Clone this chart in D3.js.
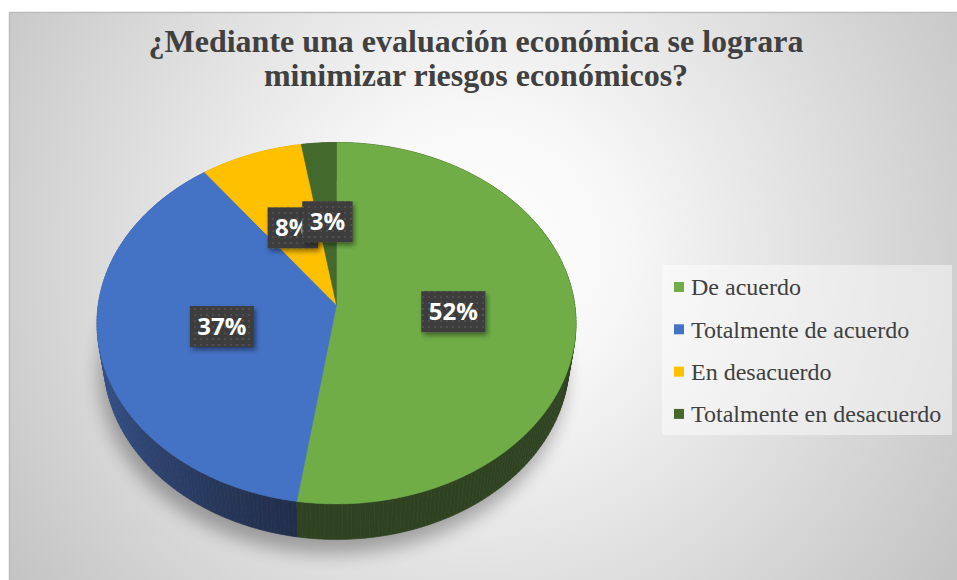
<!DOCTYPE html>
<html><head><meta charset="utf-8">
<script src="https://cdn.jsdelivr.net/npm/d3@7"></script>
<style>html,body{margin:0;padding:0;background:#fff;}svg{display:block;}</style>
</head><body>
<svg id="chart" width="957" height="580"></svg>
<script>
// ---- data ----
const titleLines = ["¿Mediante una evaluación económica se lograra", "minimizar riesgos económicos?"];
const categories = ["De acuerdo", "Totalmente de acuerdo", "En desacuerdo", "Totalmente en desacuerdo"];
const values = [52.4, 37.4, 7.6, 2.6];
const colors = ["#70ad47", "#4472c4", "#ffc000", "#436a2c"];

// ---- setup ----
const W = 957, H = 580;
const svg = d3.select("#chart");
const defs = svg.append("defs");

const bg = defs.append("radialGradient").attr("id", "bg").attr("gradientUnits", "userSpaceOnUse")
  .attr("cx", 480).attr("cy", 250).attr("r", 580);
bg.append("stop").attr("offset", "0").attr("stop-color", "#ffffff");
bg.append("stop").attr("offset", "0.25").attr("stop-color", "#f7f7f7");
bg.append("stop").attr("offset", "1").attr("stop-color", "#c3c3c3");

const pat = defs.append("pattern").attr("id", "dots").attr("patternUnits", "userSpaceOnUse")
  .attr("width", 6).attr("height", 6);
pat.append("rect").attr("width", 6).attr("height", 6).attr("fill", "#3d3d3d");
pat.append("circle").attr("cx", 3).attr("cy", 3).attr("r", 0.9).attr("fill", "#585858");

const blur = defs.append("filter").attr("id", "shadowBlur").attr("x", "-20%").attr("y", "-20%").attr("width", "140%").attr("height", "140%");
blur.append("feGaussianBlur").attr("stdDeviation", 9);

const ds = defs.append("filter").attr("id", "drop").attr("x", "-30%").attr("y", "-30%").attr("width", "160%").attr("height", "170%");
ds.append("feGaussianBlur").attr("in", "SourceAlpha").attr("stdDeviation", 2.5);
ds.append("feOffset").attr("dx", 2).attr("dy", 3).attr("result", "ob");
ds.append("feComponentTransfer").append("feFuncA").attr("type", "linear").attr("slope", 0.45);
const m = ds.append("feMerge");
m.append("feMergeNode");
m.append("feMergeNode").attr("in", "SourceGraphic");

// background
svg.append("rect").attr("x", 9.5).attr("y", 12.5).attr("width", W).attr("height", H)
  .attr("fill", "url(#bg)").attr("stroke", "#bcbcbc").attr("stroke-width", 1.5);

// ---- 3D pie projection ----
const cx = 336.5, cy = 305;
const elev = Math.asin(0.7508), sE = Math.sin(elev), cE = Math.cos(elev);
const Ldist = 6.56, F = 1563, thick = 0.245;
function proj(r, a, h) {
  const x = r * Math.sin(a), d = r * Math.cos(a);
  const v = d * sE - h * cE, w = Ldist + d * cE + h * sE;
  return [cx + F * x / w, cy - F * v / w];
}
function depth(a) { return Math.cos(a); }

const pie = d3.pie().sort(null).value(d => d)(values);
const total = d3.sum(values);
const pct = d3.format(".0%");

// shadow
const shadowPts = d3.range(0, 361, 2).map(deg => {
  const a = deg * Math.PI / 180;
  const p = proj(1.0, a, thick);
  return [p[0] - 4, p[1] + 14];
});
svg.append("path").attr("d", d3.line()(shadowPts) + "Z").attr("fill", "#000").attr("opacity", 0.3)
  .attr("filter", "url(#shadowBlur)");

// walls: small quads sorted far->near
function shadeK(a) {
  const deg = a * 180 / Math.PI;
  if (deg <= 190) return 0.6;
  if (deg >= 280) return 0.14;
  return 0.6 - 0.46 * (deg - 190) / 90;
}
const quads = [];
pie.forEach((s, i) => {
  const n = Math.max(2, Math.ceil((s.endAngle - s.startAngle) / (Math.PI / 180)));
  for (let k = 0; k < n; k++) {
    const a0 = s.startAngle + (s.endAngle - s.startAngle) * k / n;
    const a1 = s.startAngle + (s.endAngle - s.startAngle) * (k + 1) / n;
    const am = (a0 + a1) / 2;
    const col = d3.interpolateLab(colors[i], "#000")(shadeK(am));
    quads.push({ pts: [proj(1, a0, 0), proj(1, a1, 0), proj(1, a1, thick), proj(1, a0, thick)], col, z: depth(am) });
  }
});
quads.sort((a, b) => b.z - a.z);
svg.append("g").selectAll("path").data(quads).join("path")
  .attr("d", q => d3.line()(q.pts) + "Z")
  .attr("fill", q => q.col).attr("stroke", q => q.col).attr("stroke-width", 0.6);

// top faces
function topPath(s) {
  const n = Math.max(2, Math.ceil((s.endAngle - s.startAngle) / (Math.PI / 360)));
  const pts = [proj(0, 0, 0)];
  for (let k = 0; k <= n; k++) pts.push(proj(1, s.startAngle + (s.endAngle - s.startAngle) * k / n, 0));
  return d3.line()(pts) + "Z";
}
svg.append("g").selectAll("path").data(pie).join("path")
  .attr("d", topPath).attr("fill", (d, i) => colors[i])
  .attr("stroke", (d, i) => colors[i]).attr("stroke-width", 0.5);

// labels
const lg = svg.append("g");
pie.forEach((s, i) => {
  const p = proj(0.49, (s.startAngle + s.endAngle) / 2, 0);
  const g = lg.append("g");
  const rect = g.append("rect").attr("fill", "url(#dots)").attr("filter", "url(#drop)");
  const t = g.append("text").attr("x", p[0]).attr("y", p[1]).attr("dy", "0.36em")
    .attr("text-anchor", "middle").attr("fill", "#fff")
    .attr("font-family", "'Open Sans', 'Noto Sans', sans-serif").attr("font-weight", "bold")
    .attr("font-size", 24).text(pct(s.value / total));
  const tw = t.node().getComputedTextLength();
  const bw = tw + 15, bh = 41;
  rect.attr("x", p[0] - bw / 2).attr("y", p[1] - bh / 2).attr("width", bw).attr("height", bh);
});

// legend
const leg = svg.append("g");
leg.append("rect").attr("x", 662).attr("y", 265).attr("width", 290).attr("height", 170)
  .attr("fill", "#ffffff").attr("opacity", 0.45);
categories.forEach((c, i) => {
  const y = 287 + i * 42.3;
  leg.append("rect").attr("x", 674).attr("y", y - 5).attr("width", 10).attr("height", 10).attr("fill", colors[i]);
  leg.append("text").attr("x", 691).attr("y", y).attr("dy", "0.35em")
    .attr("font-family", "'Liberation Serif', 'Times New Roman', serif").attr("font-size", 24)
    .attr("fill", "#404040").text(c);
});

// title
svg.append("g").selectAll("text").data(titleLines).join("text")
  .attr("x", 476).attr("y", (d, i) => 52 + i * 34)
  .attr("text-anchor", "middle")
  .attr("font-family", "'Liberation Serif', 'Times New Roman', serif").attr("font-weight", "bold")
  .attr("font-size", 32).attr("fill", "#404040").text(d => d);
</script>
</body></html>
